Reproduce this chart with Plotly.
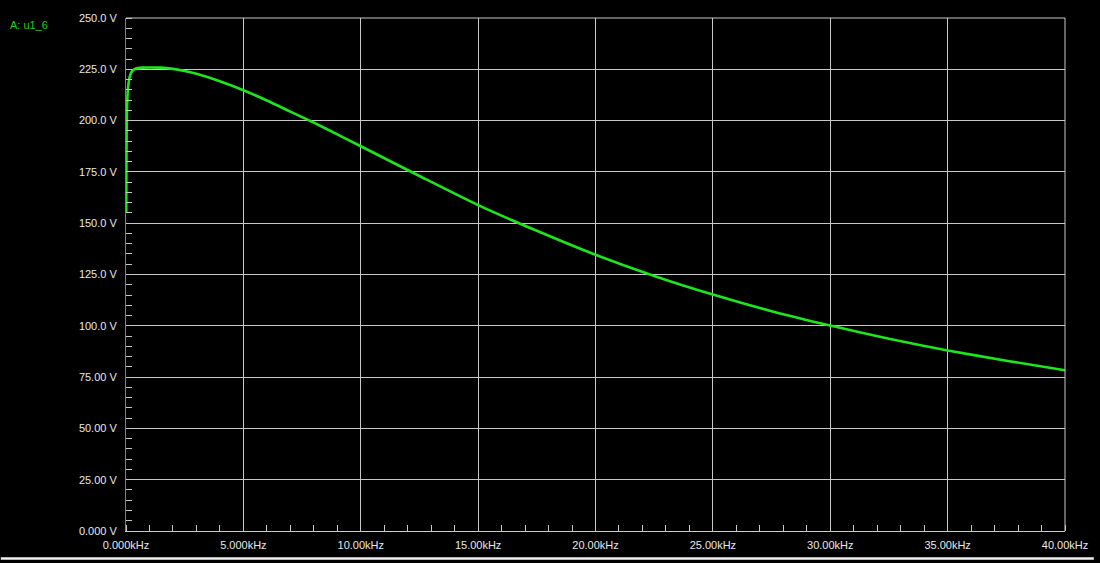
import plotly.graph_objects as go

# Data (frequency in kHz, voltage in V)
freq_khz = [0.01, 0.02, 0.04, 0.08, 0.15, 0.25, 0.4, 0.7, 1.0, 1.5, 2.0, 2.5, 3.0,
            4.0, 5.0, 6.0, 7.0, 8.0, 9.0, 10.0, 12.5, 15.0, 17.5, 20.0, 22.5,
            25.0, 27.5, 30.0, 32.5, 35.0, 37.5, 40.0]
volts = [155.0, 185.0, 205.0, 215.0, 221.0, 224.0, 225.3, 225.8, 225.9, 225.8,
         225.2, 224.2, 222.8, 219.2, 214.8, 209.8, 204.4, 199.0, 193.3, 187.5,
         173.0, 158.8, 146.3, 134.6, 124.3, 115.2, 107.1, 100.1, 93.7, 88.0,
         83.0, 78.3]

x_tick_vals = [0, 5, 10, 15, 20, 25, 30, 35, 40]
x_tick_text = ["0.000kHz", "5.000kHz", "10.00kHz", "15.00kHz", "20.00kHz",
               "25.00kHz", "30.00kHz", "35.00kHz", "40.00kHz"]
y_tick_vals = [0, 25, 50, 75, 100, 125, 150, 175, 200, 225, 250]
y_tick_text = ["0.000 V", "25.00 V", "50.00 V", "75.00 V", "100.0 V", "125.0 V",
               "150.0 V", "175.0 V", "200.0 V", "225.0 V", "250.0 V"]
trace_name = "A: u1_6"

GREEN = "#1ee61e"
GRID = "#c8c8c8"
TEXT = "#e8e8e8"
FONT = "Liberation Sans, Arial, sans-serif"

ML, MR, MT, MB = 126, 29, 17, 29
PW, PH = 1100 - ML - MR, 563 - MT - MB

fig = go.Figure()
fig.add_trace(go.Scatter(x=freq_khz, y=volts, mode="lines",
                         line=dict(color=GREEN, width=2.6, shape="spline", smoothing=0.6),
                         name=trace_name, showlegend=False))

fig.update_layout(
    width=1100, height=563,
    margin=dict(l=ML, r=MR, t=MT, b=MB),
    paper_bgcolor="black", plot_bgcolor="black",
    font=dict(family=FONT, size=11, color=TEXT),
    xaxis=dict(range=[0, 40], tickvals=x_tick_vals, ticktext=x_tick_text,
               showgrid=True, gridcolor=GRID, gridwidth=1, zeroline=False,
               showline=True, linecolor=GRID, linewidth=1,
               ticks="", ticklabelstandoff=4,
               minor=dict(dtick=1, ticks="inside", ticklen=6, tickcolor=GRID,
                          tickwidth=1, showgrid=False),
               tickfont=dict(family=FONT, size=11, color=TEXT)),
    yaxis=dict(range=[0, 250], tickvals=y_tick_vals, ticktext=y_tick_text,
               showgrid=True, gridcolor=GRID, gridwidth=1, zeroline=False,
               showline=True, linecolor="#22c022", linewidth=1,
               ticks="", ticklabelstandoff=6,
               minor=dict(dtick=5, ticks="inside", ticklen=6, tickcolor=GRID,
                          tickwidth=1, showgrid=False),
               tickfont=dict(family=FONT, size=11, color=TEXT)),
    annotations=[dict(text=trace_name, xref="paper", yref="paper",
                      x=(7 - ML) / PW, y=(563 - MB - 24) / PH,
                      xanchor="left", yanchor="middle", showarrow=False,
                      font=dict(family=FONT, size=11, color="#22cc22"))],
    shapes=[
        dict(type="line", xref="paper", yref="paper", x0=1, x1=1, y0=0, y1=1,
             line=dict(color=GRID, width=1)),
        dict(type="line", xref="paper", yref="paper", x0=0, x1=1, y0=1, y1=1,
             line=dict(color=GRID, width=1)),
        dict(type="rect", xref="paper", yref="paper",
             x0=-ML / PW, x1=1 + MR / PW,
             y0=-MB / PH, y1=-(MB - 2.5) / PH,
             fillcolor="#f0f0f0", line=dict(width=0)),
    ],
)

post = (
    "var s=document.documentElement.style;s.margin='0';s.padding='0';s.overflow='hidden';"
    "s.width='1100px';s.height='563px';s.background='black';"
    "var b=document.body.style;b.margin='0';b.padding='0';b.overflow='hidden';"
    "b.width='1100px';b.height='563px';b.background='black';"
    "var g=document.getElementById('{plot_id}');g.style.display='block';"
    "if(g.parentElement){g.parentElement.style.height='563px';g.parentElement.style.overflow='hidden';}"
)

fig.write_html("out.html", config={"displayModeBar": False, "staticPlot": True},
               post_script=post)
